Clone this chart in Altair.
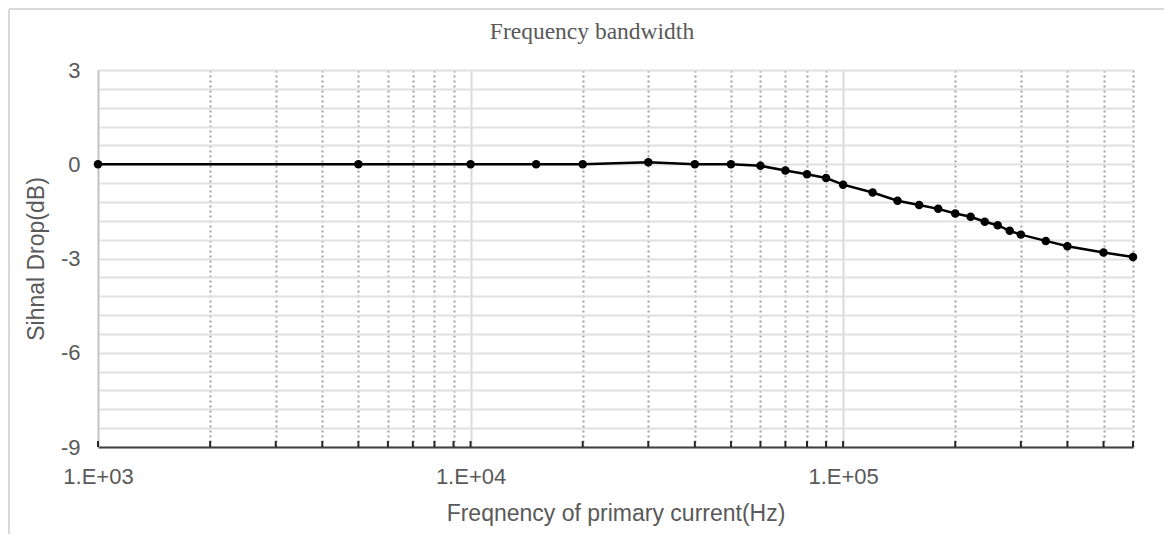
import altair as alt
import pandas as pd

# Data
freq_hz = [1000, 5000, 10000, 15000, 20000, 30000, 40000, 50000, 60000, 70000,
           80000, 90000, 100000, 120000, 140000, 160000, 180000, 200000, 220000,
           240000, 260000, 280000, 300000, 350000, 400000, 500000, 600000]
drop_db = [0, 0, 0, 0, 0, 0.06, 0, 0, -0.05, -0.2,
           -0.32, -0.44, -0.65, -0.9, -1.16, -1.3, -1.42, -1.57, -1.67,
           -1.83, -1.94, -2.12, -2.24, -2.44, -2.61, -2.81, -2.95]

x_ticks = [1000, 2000, 3000, 4000, 5000, 6000, 7000, 8000, 9000,
           10000, 20000, 30000, 40000, 50000, 60000, 70000, 80000, 90000,
           100000, 200000, 300000, 400000, 500000, 600000]
y_ticks = [3, 2.4, 1.8, 1.2, 0.6, 0, -0.6, -1.2, -1.8, -2.4, -3, -3.6, -4.2,
           -4.8, -5.4, -6, -6.6, -7.2, -7.8, -8.4, -9]

title_text = "Frequency bandwidth"
x_title = "Freqnency of primary current(Hz)"
y_title = "Sihnal Drop(dB)"

df = pd.DataFrame({"f": freq_hz, "d": drop_db})
df_ticks = pd.DataFrame({"f": x_ticks})
df_title = pd.DataFrame({"t": [title_text]})

FONT = "Liberation Sans"
TXT = "#595959"
decade_test = "datum.value == 1000 || datum.value == 10000 || datum.value == 100000"

W, H = 1035, 377

x_scale = alt.Scale(type="log", domain=[1000, 600000], nice=False)
y_scale = alt.Scale(domain=[-9, 3], nice=False, zero=False)

x_axis = alt.Axis(
    orient="bottom", values=x_ticks,
    labelExpr="datum.value == 1000 ? '1.E+03' : datum.value == 10000 ? '1.E+04' : datum.value == 100000 ? '1.E+05' : ''",
    labelFont=FONT, labelFontSize=22, labelColor=TXT, labelPadding=19,
    labelFlush=False, labelOverlap=False,
    ticks=False,
    domain=True, domainColor="#404040", domainWidth=2,
    grid=True,
    gridColor={"condition": {"test": decade_test, "value": "#d9d9d9"}, "value": "#a0a0a0"},
    gridDash={"condition": {"test": decade_test, "value": []}, "value": [2, 3]},
    gridWidth=2,
    titleFont=FONT, titleFontSize=23, titleColor=TXT, titleFontWeight="normal",
    titlePadding=15,
)

y_axis = alt.Axis(
    orient="left", values=y_ticks,
    labelExpr="round(datum.value * 10) % 30 == 0 ? '' + round(datum.value) : ''",
    labelFont=FONT, labelFontSize=22, labelColor=TXT, labelPadding=18,
    labelOverlap=False,
    ticks=False,
    domain=True, domainColor="#bfbfbf", domainWidth=1.5,
    grid=True, gridColor="#e0e0e0", gridWidth=2,
    titleFont=FONT, titleFontSize=23, titleColor=TXT, titleFontWeight="normal",
    titlePadding=12,
)

X = alt.X("f:Q", scale=x_scale, title=x_title, axis=x_axis)
Y = alt.Y("d:Q", scale=y_scale, title=y_title, axis=y_axis)

line = alt.Chart(df).mark_line(color="black", strokeWidth=2.5).encode(x=X, y=Y)
pts = alt.Chart(df).mark_circle(color="black", opacity=1, size=72).encode(x=X, y=Y)

# inward-pointing tick marks on the x axis, placed through the x scale
tick_marks = alt.Chart(df_ticks).mark_rule(color="#262626", strokeWidth=2).encode(
    x=X, y=alt.value(H - 6), y2=alt.value(H)
)

# chart title (serif), centred on the whole chart frame
title_mark = alt.Chart(df_title).mark_text(
    font="Liberation Serif", fontSize=23.5, color=TXT, align="center", baseline="alphabetic"
).encode(text="t:N", x=alt.value(494), y=alt.value(-31))

border_top = alt.Chart(df).mark_rule(color="#d9d9d9", strokeWidth=1.5).encode(
    x=alt.value(-89), x2=alt.value(1066), y=alt.value(-61)
)
border_left = alt.Chart(df).mark_rule(color="#d9d9d9", strokeWidth=1.5).encode(
    x=alt.value(-89), y=alt.value(-61), y2=alt.value(464)
)

chart = alt.layer(line, pts, tick_marks, title_mark, border_top, border_left).properties(
    width=W, height=H,
    autosize=alt.AutoSizeParams(type="none"),
    padding={"left": 90, "top": 62, "right": 31, "bottom": 87},
).configure_view(stroke=None)

chart.save("out.html", embed_options={"renderer": "svg", "actions": False})
